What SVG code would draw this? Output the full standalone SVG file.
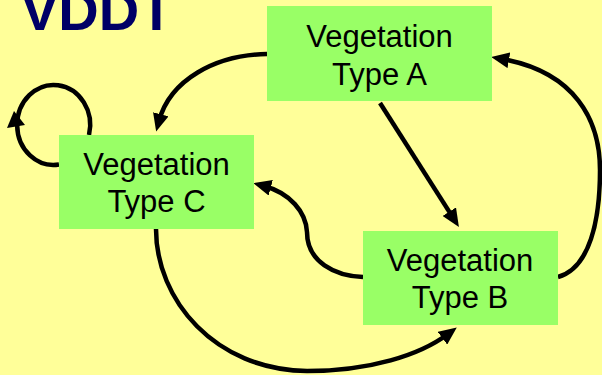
<svg xmlns="http://www.w3.org/2000/svg" width="602" height="375" viewBox="0 0 602 375">
  <style>
    .box { fill: #99FF66; }
    .label { font-family: "Liberation Sans", Arial, sans-serif; font-size: 31px; fill: #000000; text-anchor: middle; }
    .title { font-family: "Liberation Sans", Arial, sans-serif; font-size: 56px; font-weight: bold; fill: #000066; }
    .edge { fill: none; stroke: #000000; stroke-width: 4.5; }
  </style>
  <defs>
    <marker id="arrow" viewBox="0 0 18 16" refX="7" refY="8" markerWidth="18" markerHeight="16" markerUnits="userSpaceOnUse" orient="auto">
      <path d="M0,0 L18,8 L0,16 z" fill="#000000"/>
    </marker>
  </defs>

  <rect x="0" y="0" width="602" height="375" fill="#FFFF99"/>

  <text class="title" x="21" y="30">VDDT</text>

  <g id="connectors">
    <!-- A to C -->
    <path class="edge" d="M267,54 C215,55 170,80 159,121" marker-end="url(#arrow)"/>
    <!-- A to B -->
    <path class="edge" d="M380,103 L453,217.6" marker-end="url(#arrow)"/>
    <!-- B to C -->
    <path class="edge" d="M363,277 C335,276 307,262 307,232 C306,212 290,193 264,186" marker-end="url(#arrow)"/>
    <!-- C to B -->
    <path class="edge" d="M156,229 C156,300 215,370 307,371 C370,371 420,355 448,334" marker-end="url(#arrow)"/>
    <!-- B to A -->
    <path class="edge" d="M558,277 C590,268 600,220 600,170 C600,120 575,72 502,59" marker-end="url(#arrow)"/>
    <!-- C to C (self loop) -->
    <path class="edge" d="M89,135 A36.5,40 0 1 0 59,164.5"/>
    <polygon points="14,111 7,128 25,125" fill="#000000"/>
  </g>

  <g id="node-a">
    <rect class="box" x="267" y="6" width="225" height="95"/>
    <text class="label" x="379.5" y="47">Vegetation</text>
    <text class="label" x="379.5" y="85">Type A</text>
  </g>

  <g id="node-c">
    <rect class="box" x="59" y="135" width="195" height="94"/>
    <text class="label" x="156.5" y="175">Vegetation</text>
    <text class="label" x="156.5" y="212">Type C</text>
  </g>

  <g id="node-b">
    <rect class="box" x="363" y="231" width="195" height="94"/>
    <text class="label" x="460" y="271">Vegetation</text>
    <text class="label" x="460" y="308">Type B</text>
  </g>
</svg>
